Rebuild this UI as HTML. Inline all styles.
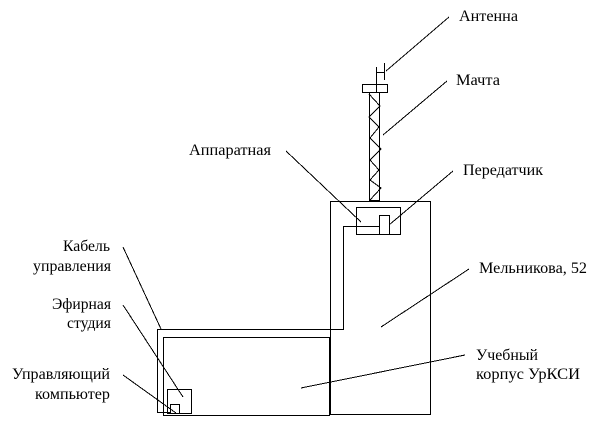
<!DOCTYPE html>
<html>
<head>
<meta charset="utf-8">
<style>
html,body{margin:0;padding:0;background:#fff;width:605px;height:423px;overflow:hidden}
svg{display:block}
text{font-family:"Liberation Serif","Noto Serif CJK SC",serif;font-size:16px;fill:#000}
</style>
</head>
<body>
<svg width="605" height="423" viewBox="0 0 605 423" xmlns="http://www.w3.org/2000/svg">
<g fill="none" stroke="#000" stroke-width="1" shape-rendering="crispEdges">
<!-- antenna -->
<path d="M376.5 67V84M376.5 72.5H384M384.5 63V80"/>
<rect x="362.5" y="84.5" width="25" height="8"/>
<path d="M376.5 84V92"/>
<!-- mast -->
<path d="M369.5 92V201M379.5 92V201M369 200.5H380"/>
<path d="M369 94L380 106L369 117L379 127L370 138L381 149L370 160L379 170L370 180L381 188L370 200"/>
<!-- buildings -->
<rect x="330.5" y="201.5" width="100" height="213"/>
<rect x="356.5" y="207.5" width="44" height="27"/>
<rect x="379.5" y="215.5" width="10" height="19"/>
<rect x="163.5" y="337.5" width="166" height="78"/>
<rect x="167.5" y="389.5" width="24" height="24"/>
<rect x="170.5" y="404.5" width="9" height="9"/>
<!-- cable -->
<path d="M379 226.5H343.5V329.5H157.5V412.5H171"/>
<!-- leaders -->
<path d="M386 71L449 17"/>
<path d="M383 135L447 81"/>
<path d="M286 151L361 222"/>
<path d="M389 225L453 171"/>
<path d="M381 327L469 269"/>
<path d="M301 388L465 355"/>
<path d="M123 247L161 329"/>
<path d="M123 305L183 397"/>
<path d="M123 375L176 413"/>
</g>
<text x="459" y="21" textLength="59" lengthAdjust="spacingAndGlyphs">Антенна</text>
<text x="456" y="85" textLength="44" lengthAdjust="spacingAndGlyphs">Мачта</text>
<text x="189" y="155" textLength="82" lengthAdjust="spacingAndGlyphs">Аппаратная</text>
<text x="463" y="175" textLength="80" lengthAdjust="spacingAndGlyphs">Передатчик</text>
<text x="479" y="273" textLength="108" lengthAdjust="spacingAndGlyphs">Мельникова, 52</text>
<text x="476" y="360" textLength="62" lengthAdjust="spacingAndGlyphs">Учебный</text>
<text x="476" y="379" textLength="104" lengthAdjust="spacingAndGlyphs">корпус УрКСИ</text>
<text x="63" y="251" textLength="47" lengthAdjust="spacingAndGlyphs">Кабель</text>
<text x="33" y="271" textLength="78" lengthAdjust="spacingAndGlyphs">управления</text>
<text x="52" y="309" textLength="59" lengthAdjust="spacingAndGlyphs">Эфирная</text>
<text x="67" y="328" textLength="44" lengthAdjust="spacingAndGlyphs">студия</text>
<text x="12" y="379" textLength="98" lengthAdjust="spacingAndGlyphs">Управляющий</text>
<text x="35" y="399" textLength="75" lengthAdjust="spacingAndGlyphs">компьютер</text>
</svg>
</body>
</html>
